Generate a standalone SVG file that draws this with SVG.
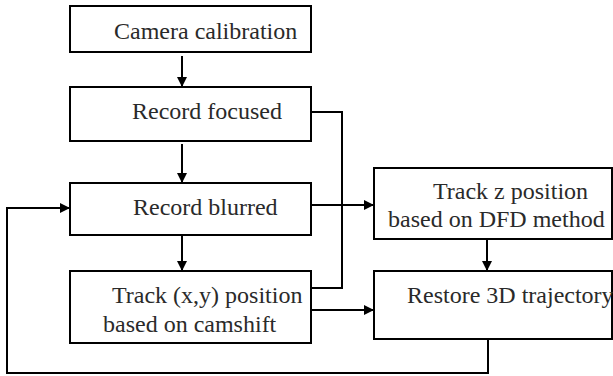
<svg xmlns="http://www.w3.org/2000/svg" width="613" height="376" viewBox="0 0 613 376">
<style>
.box{fill:#fff;stroke:#000;stroke-width:2}
.t{font-family:'Liberation Serif','Times New Roman',Times,serif;font-size:24px;fill:#2a2a2a}
.c{fill:none;stroke:#000;stroke-width:2}
</style>
<defs>
<marker id="ah" viewBox="0 0 10 10" refX="10" refY="5" markerWidth="10" markerHeight="10" markerUnits="userSpaceOnUse" orient="auto">
<path d="M0,0 L10,5 L0,10 z" fill="#000"/>
</marker>
</defs>
<rect width="613" height="376" fill="#fff"/>
<g id="connectors">
<line class="c" x1="182" y1="56" x2="182" y2="87" marker-end="url(#ah)"/>
<line class="c" x1="182" y1="144" x2="182" y2="183" marker-end="url(#ah)"/>
<line class="c" x1="182" y1="235" x2="182" y2="271" marker-end="url(#ah)"/>
<polyline class="c" points="311,112 342,112 342,288 311,288"/>
<line class="c" x1="311" y1="205" x2="374" y2="205" marker-end="url(#ah)"/>
<line class="c" x1="311" y1="310" x2="374" y2="310" marker-end="url(#ah)"/>
<line class="c" x1="487" y1="239" x2="487" y2="271" marker-end="url(#ah)"/>
<polyline class="c" points="488,339 488,373 7,373 7,208 70,208" marker-end="url(#ah)"/>
</g>
<g id="n1"><rect class="box" x="70" y="6" width="241" height="46"/><text class="t" x="114" y="39">Camera calibration</text></g>
<g id="n2"><rect class="box" x="70" y="87" width="241" height="54"/><text class="t" x="132" y="119">Record focused</text></g>
<g id="n3"><rect class="box" x="70" y="183" width="241" height="52"/><text class="t" x="133" y="215">Record blurred</text></g>
<g id="n4"><rect class="box" x="70" y="271" width="241" height="72"/><text class="t" x="112" y="303">Track (x,y) position</text><text class="t" x="103" y="332">based on camshift</text></g>
<g id="n5"><rect class="box" x="374" y="168" width="238" height="71"/><text class="t" x="433" y="199">Track z position</text><text class="t" x="388" y="227">based on DFD method</text></g>
<g id="n6"><rect class="box" x="374" y="271" width="238" height="68"/><text class="t" x="407" y="303">Restore 3D trajectory</text></g>
</svg>
